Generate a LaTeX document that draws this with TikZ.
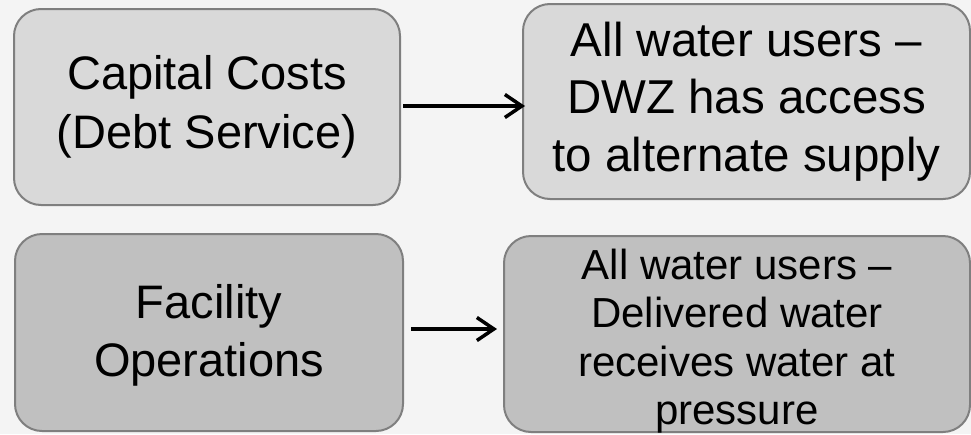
\documentclass[tikz,border=0pt]{standalone}
\usepackage{fontspec}
\setmainfont{Liberation Sans}
\usetikzlibrary{arrows.meta}
\definecolor{bgcol}{HTML}{F4F4F4}
\definecolor{lightbox}{HTML}{D9D9D9}
\definecolor{darkbox}{HTML}{C0C0C0}
\definecolor{edgecol}{HTML}{7F7F7F}
\tikzset{
  box/.style={draw=edgecol, line width=2pt, rounded corners=27pt, rectangle,
    inner sep=0pt, align=center, text=black},
  boxtext/.style={inner sep=0pt, align=center, text=black},
  arr/.style={line width=3.5pt, -{Straight Barb[length=17pt,width=23pt]}}
}
\begin{document}
\begin{tikzpicture}[x=1pt,y=-1pt]
\fill[bgcol] (0,0) rectangle (971,434);
\useasboundingbox (0,0) rectangle (971,434);
\node[box, fill=lightbox, minimum width=386pt, minimum height=196pt,
  font=\fontsize{47}{58.5}\selectfont] (b1) at (207,107)
  {Capital Costs\\(Debt Service)};
\node[box, fill=lightbox, minimum width=447pt, minimum height=195pt,
  font=\fontsize{47.5}{57.5}\selectfont] (b2) at (746.5,101.5)
  {All water users –\\DWZ has access\\to alternate supply};
\node[box, fill=darkbox, minimum width=388pt, minimum height=197pt] (b3) at (209,332.5) {};
\node[boxtext, font=\fontsize{47}{58.5}\selectfont] (b3text) at ([yshift=-3pt]b3.center)
  {Facility\\Operations};
\node[box, fill=darkbox, minimum width=466pt, minimum height=196pt] (b4) at (737,334) {};
\node[boxtext, font=\fontsize{42}{48.5}\selectfont] (b4text) at ([yshift=-7pt]b4.center)
  {All water users –\\Delivered water\\receives water at\\pressure};
\draw[arr] ([xshift=2pt,yshift=1pt]b1.east) -- ([xshift=3pt,yshift=1pt]b1.east -| b2.west);
\draw[arr] ([xshift=7pt,yshift=3.5pt]b3.east) -- ([xshift=-6pt,yshift=3.5pt]b3.east -| b4.west);
\end{tikzpicture}
\end{document}
